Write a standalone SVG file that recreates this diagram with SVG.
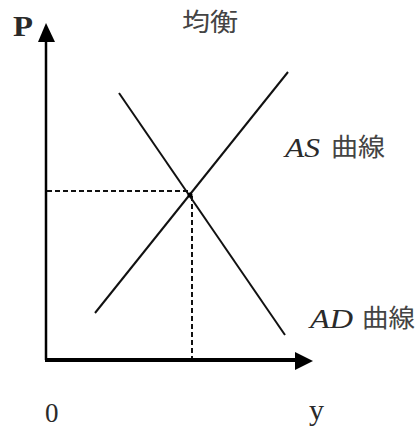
<svg xmlns="http://www.w3.org/2000/svg" width="418" height="431" viewBox="0 0 418 431">
<style>
.t{font-family:"Liberation Serif","Times New Roman","DejaVu Serif",serif;fill:#2a2a2a}
.cjk{font-family:"Noto Sans CJK JP","Noto Sans CJK SC",sans-serif;fill:#444}
.it{font-style:italic}
.curve{stroke:#111;stroke-width:2;fill:none}
.dash{stroke:#111;stroke-width:2;fill:none;stroke-dasharray:5 3}
</style>
<rect width="418" height="431" fill="#fff"/>
<g id="axes">
<line x1="46" y1="360" x2="46" y2="40" stroke="#000" stroke-width="2.5"/>
<polygon points="46,23 38,42 55,42" fill="#000"/>
<line x1="45" y1="360" x2="298" y2="360" stroke="#000" stroke-width="4"/>
<polygon points="313,361 295,352 295,370" fill="#000"/>
</g>
<g id="connectors">
<line id="as-curve" class="curve" x1="95" y1="313" x2="288" y2="72"/>
<line id="ad-curve" class="curve" x1="119" y1="93" x2="285" y2="335"/>
<line class="dash" x1="47" y1="191" x2="188" y2="191"/>
<line class="dash" x1="192" y1="196" x2="192" y2="358"/>
<circle cx="190" cy="195" r="2.5" fill="#000"/>
</g>
<g id="labels">
<text class="t" x="13" y="36" font-size="29" font-weight="bold" textLength="20" lengthAdjust="spacingAndGlyphs">P</text>
<text class="cjk" x="182" y="31" font-size="25" textLength="56" lengthAdjust="spacingAndGlyphs">均衡</text>
<text class="t it" x="285" y="157" font-size="28" textLength="35" lengthAdjust="spacingAndGlyphs">AS</text>
<text class="cjk" x="331" y="156" font-size="25" textLength="54" lengthAdjust="spacingAndGlyphs">曲線</text>
<text class="t it" x="310" y="328" font-size="28" textLength="43" lengthAdjust="spacingAndGlyphs">AD</text>
<text class="cjk" x="362" y="327" font-size="25" textLength="53" lengthAdjust="spacingAndGlyphs">曲線</text>
<text class="t" x="45" y="422" font-size="27">0</text>
<text class="t" x="309" y="420" font-size="30">y</text>
</g>
</svg>
